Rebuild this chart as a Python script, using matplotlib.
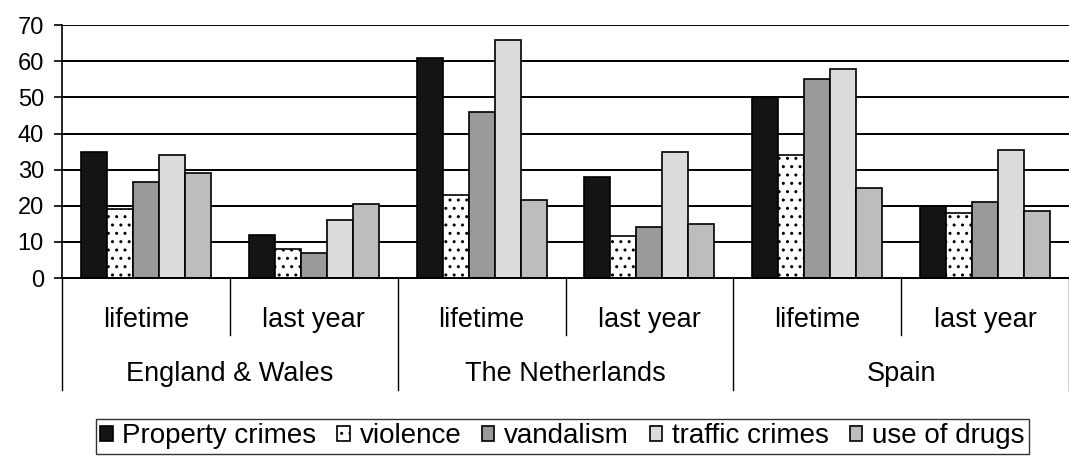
import matplotlib
matplotlib.use("Agg")
import matplotlib.pyplot as plt
from matplotlib.transforms import blended_transform_factory
import numpy as np

plt.rcParams['font.family'] = ['Liberation Sans', 'DejaVu Sans']
plt.rcParams['hatch.linewidth'] = 1.0
plt.rcParams['hatch.color'] = 'black'

countries = ["England & Wales", "The Netherlands", "Spain"]
periods = ["lifetime", "last year"]
series_names = ["Property crimes", "violence", "vandalism", "traffic crimes", "use of drugs"]

# one value per (country, period) group, in the order of the groups
property_crimes = [35, 12, 61, 28, 50, 20]
violence = [19, 8, 23, 11.5, 34, 18]
vandalism = [26.5, 7, 46, 14, 55, 21]
traffic_crimes = [34, 16, 66, 35, 58, 35.5]
use_of_drugs = [29, 20.5, 21.5, 15, 25, 18.5]

y_ticks = [0, 10, 20, 30, 40, 50, 60, 70]

series = [property_crimes, violence, vandalism, traffic_crimes, use_of_drugs]
styles = [
    dict(color="#141414", hatch=None),
    dict(color="white", hatch=".."),
    dict(color="#9a9a9a", hatch=None),
    dict(color="#dcdcdc", hatch=None),
    dict(color="#bdbdbd", hatch=None),
]

fig = plt.figure(figsize=(10.69, 4.58), dpi=100)
ax = fig.add_axes([0.058, 0.393, 0.942, 0.552])

n_groups = len(property_crimes)
x = np.arange(n_groups)
w = 0.155

for i, (vals, st) in enumerate(zip(series, styles)):
    ax.bar(x + (i - 2) * w, vals, width=w, color=st["color"], hatch=st["hatch"],
           edgecolor="black", linewidth=1.2, label=series_names[i], zorder=3)

ax.set_xlim(-0.5, n_groups - 0.5)
ax.set_ylim(0, 70)
ax.set_yticks(y_ticks)
ax.tick_params(axis='y', labelsize=17, length=6, width=1.2, pad=7)
ax.set_xticks([])
for t in y_ticks[1:]:
    ax.axhline(t, color="black", linewidth=1.4, zorder=1)
for s in ["top", "right"]:
    ax.spines[s].set_visible(False)
ax.spines["left"].set_linewidth(1.2)
ax.spines["bottom"].set_linewidth(1.4)
ax.spines["bottom"].set_zorder(4)

# two-level category axis below the plot
trans = blended_transform_factory(ax.transData, ax.transAxes)
for k in range(n_groups + 1):
    xb = k - 0.5
    depth = -0.443 if k % 2 == 0 else -0.225
    ax.plot([xb, xb], [0, depth], color="black", lw=1.0, transform=trans, clip_on=False)
for k in range(n_groups):
    ax.text(k, -0.166, periods[k % 2], transform=trans, ha="center", va="center", fontsize=19.5)
for c, name in enumerate(countries):
    ax.text(2 * c + 0.5, -0.378, name, transform=trans, ha="center", va="center", fontsize=19.5)

leg = fig.legend(loc="center", bbox_to_anchor=(0.526, 0.047), ncol=5, fontsize=20,
                 frameon=True, fancybox=False, edgecolor="black", handlelength=0.45,
                 handleheight=0.45, handletextpad=0.35, columnspacing=0.75,
                 borderpad=0.15, borderaxespad=0)
leg.get_frame().set_linewidth(1.0)

fig.savefig("out.png", dpi=100)
